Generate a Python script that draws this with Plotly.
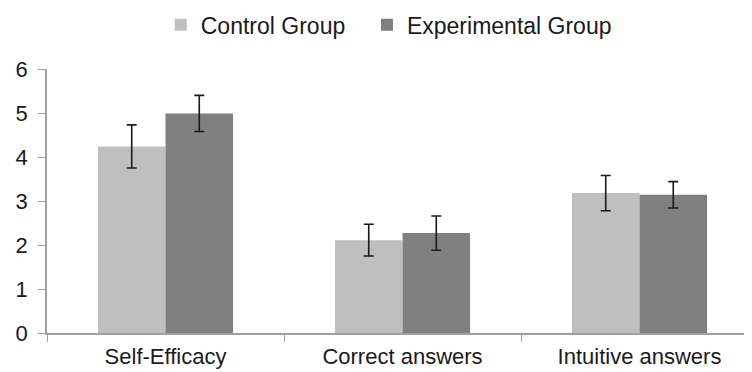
import plotly.graph_objects as go

categories = ["Self-Efficacy", "Correct answers", "Intuitive answers"]
control_vals = [4.24, 2.11, 3.18]
control_err = [0.49, 0.36, 0.40]
exp_vals = [4.99, 2.27, 3.14]
exp_err = [0.41, 0.39, 0.30]
y_ticks = [0, 1, 2, 3, 4, 5, 6]

font_family = "Liberation Sans, Arial, sans-serif"

fig = go.Figure()
fig.add_trace(go.Bar(
    name="Control Group", x=categories, y=control_vals, legend="legend",
    marker=dict(color="#BFBFBF", line=dict(width=0)),
    error_y=dict(type="data", array=control_err, color="#1a1a1a", thickness=1.6, width=5),
))
fig.add_trace(go.Bar(
    name="Experimental Group", x=categories, y=exp_vals, legend="legend2",
    marker=dict(color="#808080", line=dict(width=0)),
    error_y=dict(type="data", array=exp_err, color="#1a1a1a", thickness=1.6, width=5),
))

legend_common = dict(orientation="h", xanchor="left", y=1.167, yanchor="middle",
                     yref="paper", font=dict(size=23), itemwidth=30,
                     bgcolor="rgba(0,0,0,0)")

fig.update_layout(
    width=752, height=372,
    margin=dict(l=39, r=2, t=61, b=47, autoexpand=False),
    paper_bgcolor="white", plot_bgcolor="white",
    barmode="group", bargap=0.43, bargroupgap=0,
    font=dict(family=font_family, size=22, color="#1a1a1a"),
    showlegend=True,
    legend=dict(x=0.160, **legend_common),
    legend2=dict(x=0.450, **legend_common),
    xaxis=dict(
        range=[-0.5, 2.5], showgrid=False, zeroline=False, automargin=False,
        showline=True, linecolor="#A0A0A0", linewidth=1.5,
        ticks="outside", tickson="boundaries", ticklen=7, tickcolor="#A0A0A0",
        tickfont=dict(size=22), ticklabelstandoff=3,
    ),
    yaxis=dict(
        range=[0, 6], tickvals=y_ticks, showgrid=False, zeroline=False, automargin=False,
        showline=True, linecolor="#A0A0A0", linewidth=1.5,
        ticks="outside", ticklen=7, tickcolor="#A0A0A0",
        tickfont=dict(size=22), ticklabelstandoff=6,
    ),
)

fig.write_html("out.html")
